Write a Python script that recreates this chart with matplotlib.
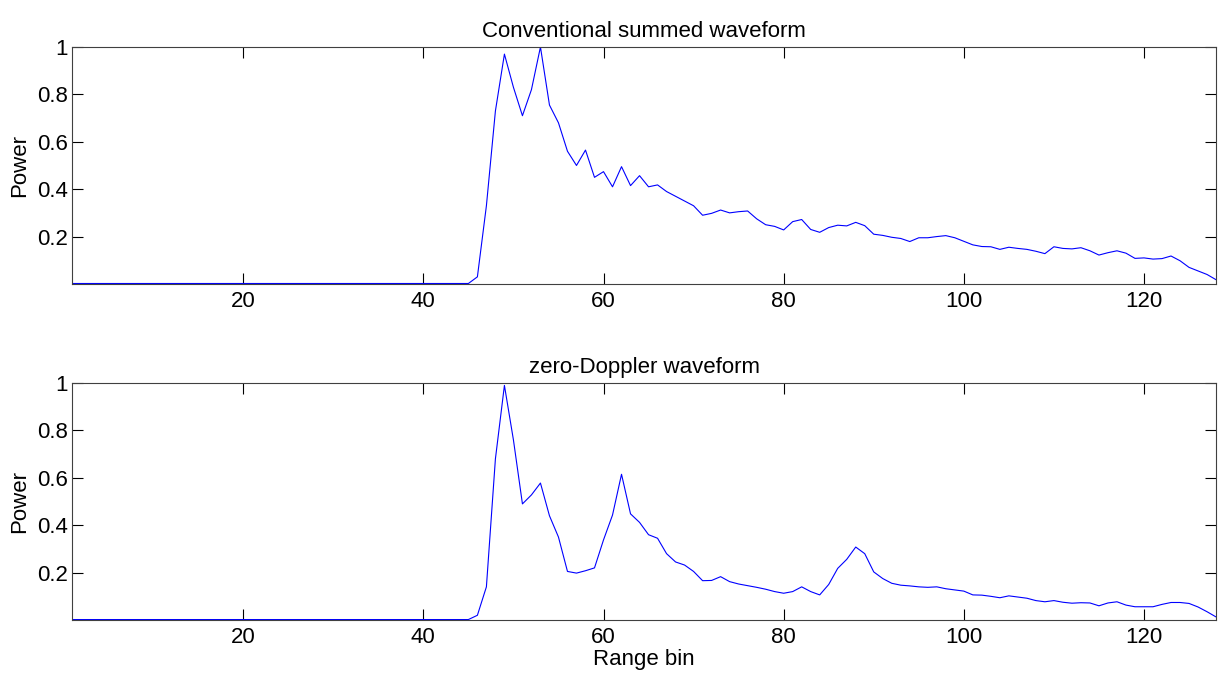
import numpy as np
import matplotlib
matplotlib.use('Agg')
import matplotlib.pyplot as plt

plt.rcParams['font.family'] = ['Liberation Sans', 'DejaVu Sans']

# range bins 1..128
bins = np.arange(1, 129)

# conventional summed waveform, bins 46..128 (bins 1..45 are ~zero)
conv_tail = [0.03, 0.33, 0.73, 0.97, 0.83, 0.71, 0.82, 1.0, 0.755, 0.68,
             0.56, 0.50, 0.565, 0.45, 0.474, 0.41, 0.495, 0.415, 0.457, 0.41,
             0.418, 0.39, 0.37, 0.35, 0.33, 0.29, 0.298, 0.312, 0.30, 0.305,
             0.308, 0.275, 0.25, 0.243, 0.228, 0.263, 0.272, 0.23, 0.218, 0.238,
             0.248, 0.245, 0.26, 0.246, 0.21, 0.205, 0.197, 0.192, 0.179, 0.195,
             0.195, 0.20, 0.204, 0.195, 0.18, 0.165, 0.158, 0.157, 0.146, 0.155,
             0.15, 0.146, 0.138, 0.128, 0.157, 0.15, 0.148, 0.153, 0.14, 0.122,
             0.132, 0.14, 0.13, 0.108, 0.11, 0.105, 0.107, 0.118, 0.098, 0.07,
             0.055, 0.04, 0.018]

# zero-Doppler waveform, bins 46..128
zd_tail = [0.02, 0.14, 0.68, 0.99, 0.76, 0.49, 0.528, 0.578, 0.44, 0.35,
           0.205, 0.198, 0.208, 0.22, 0.338, 0.443, 0.615, 0.448, 0.412, 0.36,
           0.345, 0.28, 0.245, 0.232, 0.205, 0.166, 0.167, 0.183, 0.162, 0.152,
           0.145, 0.138, 0.13, 0.12, 0.113, 0.12, 0.14, 0.12, 0.106, 0.15,
           0.218, 0.256, 0.308, 0.28, 0.203, 0.175, 0.155, 0.147, 0.144, 0.14,
           0.138, 0.14, 0.132, 0.127, 0.122, 0.106, 0.105, 0.10, 0.094, 0.102,
           0.097, 0.092, 0.082, 0.077, 0.082, 0.075, 0.071, 0.073, 0.072, 0.06,
           0.072, 0.077, 0.063, 0.056, 0.056, 0.056, 0.066, 0.074, 0.074, 0.07,
           0.055, 0.035, 0.013]

floor_level = 0.002
conv = np.array([floor_level] * 45 + conv_tail)
zero_doppler = np.array([floor_level] * 45 + zd_tail)

titles = ['Conventional summed waveform', 'zero-Doppler waveform']
xticks = [20, 40, 60, 80, 100, 120]
yticks = [0.2, 0.4, 0.6, 0.8, 1.0]
ytick_labels = ['0.2', '0.4', '0.6', '0.8', '1']

fig = plt.figure(figsize=(12.25, 6.8), dpi=100)
ax1 = fig.add_axes([0.0588, 0.5824, 0.9339, 0.3485])
ax2 = fig.add_axes([0.0588, 0.0882, 0.9339, 0.3485])

for ax, data, title in zip([ax1, ax2], [conv, zero_doppler], titles):
    ax.plot(bins, data, color='#0000ff', linewidth=0.8)
    ax.set_xlim(1, 128)
    ax.set_ylim(0, 1)
    ax.set_xticks(xticks)
    ax.set_yticks(yticks)
    ax.set_yticklabels(ytick_labels)
    ax.tick_params(direction='in', length=8, width=0.8, top=True, right=True,
                   labelsize=16, colors='black')
    ax.tick_params(axis='y', pad=3)
    ax.tick_params(axis='x', pad=5)
    for s in ax.spines.values():
        s.set_color('#404040')
        s.set_linewidth(0.8)
    ax.set_title(title, fontsize=16, pad=7)
    ax.set_ylabel('Power', fontsize=16, labelpad=5)

ax2.set_xlabel('Range bin', fontsize=16, labelpad=1)

plt.savefig('out.png', dpi=100)
